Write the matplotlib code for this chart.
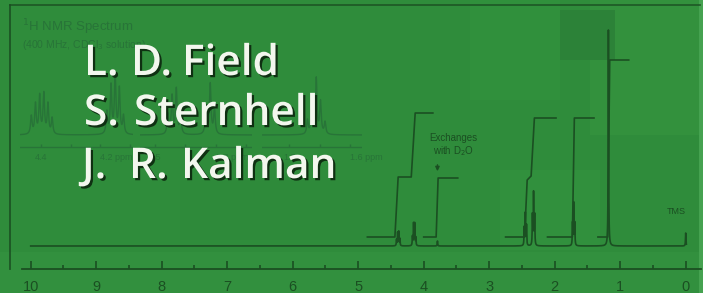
import matplotlib
matplotlib.use("Agg")
import numpy as np
import matplotlib.pyplot as plt
from matplotlib.patches import Rectangle
import matplotlib.patheffects as pe

W, H = 703, 293

# ---------------- data ----------------
# main spectrum: peak positions (ppm) and heights (px above baseline)
peak_ppm = [4.415, 4.398, 4.381, 4.364, 4.172, 4.155, 4.138, 4.121, 3.79,
            2.465, 2.448, 2.431, 2.340, 2.323, 2.306, 1.728, 1.711, 1.694,
            1.18, 0.0]
peak_height = [6, 13, 14, 7, 9, 22, 22, 8, 5,
               18, 32, 20, 30, 52, 30, 22, 42, 22,
               216, 13]

# integral traces: ppm breakpoints and heights (px above baseline)
int_A_ppm = [4.86, 4.44, 4.39, 4.19, 4.13, 3.86]
int_A_lev = [9, 9, 69, 69, 133, 133]
int_B_ppm = [4.00, 3.81, 3.78, 3.48]
int_B_lev = [9, 9, 68, 68]
int_C_ppm = [2.75, 2.46, 2.42, 2.36, 2.31, 1.98]
int_C_lev = [9, 9, 66, 70, 128, 128]
int_D_ppm = [2.11, 1.73, 1.70, 1.40]
int_D_lev = [9, 9, 128, 128]
int_E_ppm = [1.34, 1.19, 1.16, 0.87]
int_E_lev = [9, 9, 186, 186]

tick_major = [10, 9, 8, 7, 6, 5, 4, 3, 2, 1, 0]
tick_minor = [9.5, 8.5, 7.5, 6.5, 5.5, 4.5, 3.5, 2.5, 1.5, 0.5]

# inset expansions: ppm ranges, tick labels, peaks
inset_range = [(4.47, 4.09), (2.55, 2.18), (1.89, 1.56)]
inset_ticks = [[4.4, 4.3, 4.2, 4.1], [2.5, 2.4, 2.3, 2.2], [1.8, 1.7, 1.6]]
inset_labels = [{4.4: "4.4", 4.2: "4.2 ppm"}, {2.5: "2.5", 2.3: "2.3 ppm"}, {1.8: "1.8", 1.6: "1.6 ppm"}]
inset_peak_ppm = [[4.432, 4.418, 4.404, 4.390, 4.376, 4.362, 4.178, 4.164, 4.150, 4.136, 4.122],
                  [2.458, 2.444, 2.430, 2.416, 2.332, 2.318, 2.304],
                  [1.740, 1.725, 1.711, 1.697, 1.682]]
inset_peak_h = [[18, 30, 38, 40, 30, 16, 22, 48, 58, 45, 18],
                [20, 38, 45, 20, 28, 50, 26],
                [14, 34, 55, 32, 12]]

authors = [["L.", "D.", "Field"], ["S.", "Sternhell"], ["J.", "R.", "Kalman"]]

# ---------------- styles ----------------
BG = "#2f8c3b"
INK = "#1b4f22"
FAINT = "#287438"
TEXTC = "#f3f7ee"

fig = plt.figure(figsize=(W / 100, H / 100), dpi=100)
fig.patch.set_facecolor(BG)

# background (pixel coordinates)
bg = fig.add_axes([0, 0, 1, 1], zorder=0)
bg.set_xlim(0, W); bg.set_ylim(H, 0); bg.axis("off")
blocks = [
    (0, 0, 703, 293, "#2f8c3b"),
    (590, 0, 703, 135, "#33913d"),
    (555, 10, 615, 60, "#2c8238"),
    (470, 0, 560, 100, "#30903c"),
    (0, 252, 703, 293, "#32903e"),
    (699, 0, 703, 293, "#45a250"),
    (180, 180, 370, 240, "#2e8a3a"),
    (500, 170, 600, 250, "#31903d"),
]
for x0, y0, x1, y1, c in blocks:
    bg.add_patch(Rectangle((x0, y0), x1 - x0, y1 - y0, color=c, lw=0))
# frame lines
bg.plot([10, 700], [5, 5], color=INK, lw=1.3, alpha=0.8)
bg.plot([10, 10], [5, 269], color=INK, lw=1.3, alpha=0.9)

# ---------------- main spectrum ----------------
PX = 65.5
x_left = 10 + 30.7 / PX
x_right = 10 - (W - 30.7) / PX
ax = fig.add_axes([0, 0, 1, 1], zorder=2)
ax.set_xlim(x_left, x_right)
ax.set_ylim(-47, 246)
ax.axis("off")
ax.patch.set_alpha(0)

ppm = np.linspace(10.0, -0.01, 40000)
spec = np.zeros_like(ppm)
gam = 0.004
for p, h in zip(peak_ppm, peak_height):
    spec += h * gam**2 / ((ppm - p) ** 2 + gam**2)
ax.plot(ppm, spec, color=INK, lw=1.2, solid_joinstyle="round")

for xs, ys in [(int_A_ppm, int_A_lev), (int_B_ppm, int_B_lev), (int_C_ppm, int_C_lev),
               (int_D_ppm, int_D_lev), (int_E_ppm, int_E_lev)]:
    ax.plot(xs, ys, color=INK, lw=1.2)

# axis line and ticks
ax.plot([x_left - 0.33, x_right + 0.03], [-23, -23], color=INK, lw=1.3)
ax.vlines(tick_major, -23, -15, color=INK, lw=1.2)
ax.vlines(tick_minor, -23, -19, color=INK, lw=1.2)
for t in tick_major:
    ax.text(t, -41, f"{t}", ha="center", va="center", fontsize=10.5,
            family="Liberation Sans", color=INK)

ax.text(3.55, 108, "Exchanges", ha="center", va="center", fontsize=7,
        family="Liberation Sans", color=INK)
ax.text(3.55, 95, "with D$_2$O", ha="center", va="center", fontsize=7,
        family="Liberation Sans", color=INK)
ax.annotate("", xy=(3.79, 72), xytext=(3.79, 84),
            arrowprops=dict(arrowstyle="-|>", color=INK, lw=1.0, mutation_scale=6))
ax.text(0.15, 35, "TMS", ha="center", va="center", fontsize=6.5,
        family="Liberation Sans", color=INK)

# ---------------- inset expansions ----------------
inset_px = [(20, 133), (140, 252), (262, 362)]
for (x0, x1), (a, b), tks, lbls, pp, hh in zip(inset_px, inset_range, inset_ticks,
                                                inset_labels, inset_peak_ppm, inset_peak_h):
    iax = fig.add_axes([x0 / W, 1 - 170 / H, (x1 - x0) / W, 100 / H], zorder=1)
    iax.set_xlim(a, b)
    iax.set_ylim(-35, 65)  # baseline at pixel 135
    iax.axis("off")
    iax.patch.set_alpha(0)
    g = np.linspace(a, b, 3000)
    s = np.zeros_like(g)
    for p, h in zip(pp, hh):
        s += h * 0.003**2 / ((g - p) ** 2 + 0.003**2)
    iax.plot(g, s, color=FAINT, lw=1.0)
    iax.plot([a, b], [-12, -12], color=FAINT, lw=1.0)
    iax.vlines(tks, -12, -9, color=FAINT, lw=1.0)
    for t, lab in lbls.items():
        iax.text(t, -22, lab, ha="left" if "ppm" in lab else "center", va="center",
                 fontsize=6.5, family="Liberation Sans", color=FAINT)

bg.text(22, 27, "$^1$H NMR Spectrum", fontsize=9.5, family="Liberation Sans",
        color=FAINT, va="center", ha="left")
bg.text(22, 45, "(400 MHz, CDCl$_3$ solution)", fontsize=7.5, family="Liberation Sans",
        color=FAINT, va="center", ha="left")

# ---------------- authors ----------------
top = fig.add_axes([0, 0, 1, 1], zorder=5)
top.set_xlim(0, W); top.set_ylim(H, 0); top.axis("off"); top.patch.set_alpha(0)
word_x = [[84, 131, 182], [84, 134], [82, 129, 181]]
base_y = [75, 125, 178]
shadow = [pe.withSimplePatchShadow(offset=(1.6, -1.6), shadow_rgbFace="#0c260e", alpha=0.9)]
for words, xs, yb in zip(authors, word_x, base_y):
    for w, x in zip(words, xs):
        top.text(x, yb, w, fontsize=30.5, family="Open Sans", fontweight=600,
                 color=TEXTC, ha="left", va="baseline", path_effects=shadow)

fig.savefig("out.png", dpi=100, facecolor=BG)
